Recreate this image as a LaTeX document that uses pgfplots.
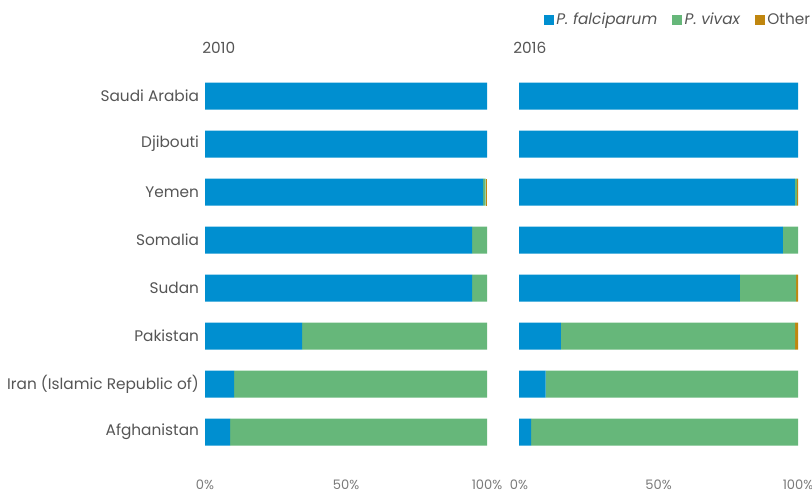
\documentclass[border=0pt]{standalone}
\usepackage{pgfplots}
\pgfplotsset{compat=1.18}
\usepackage{pgfplotstable}
\usepackage{fontspec}
\setmainfont{Poppins}
\definecolor{falc}{HTML}{008FD0}
\definecolor{viv}{HTML}{66B77A}
\definecolor{oth}{HTML}{C0860F}
\definecolor{txt}{HTML}{555555}
\definecolor{tick}{HTML}{7A7A7A}

\pgfplotstableread{
idx falc viv oth
0 100 0 0
1 100 0 0
2 98.6 0.9 0.5
3 94.7 5.3 0
4 94.7 5.3 0
5 34.4 65.6 0
6 10.3 89.7 0
7 8.9 91.1 0
}\tenData
\pgfplotstableread{
idx falc viv oth
0 100 0 0
1 100 0 0
2 98.9 0.7 0.4
3 94.6 5.4 0
4 79.2 20.1 0.7
5 15.0 84.0 1.0
6 9.5 90.5 0
7 4.3 95.7 0
}\sixteenData

\pgfplotsset{
  panel/.style={
    xbar stacked,
    scale only axis,
    height=295.2pt,
    anchor=south west,
    xmin=0, xmax=100,
    ymin=-0.6, ymax=7.6,
    y dir=reverse,
    axis line style={draw=none},
    major tick length=0pt,
    bar width=20.25pt,
    xtick={0,50,100},
    xticklabels={0\%,50\%,100\%},
    xticklabel style={font=\fontsize{9.8}{11}\selectfont, text=tick, yshift=-10.5pt},
    ytick={0,...,7},
    clip=false,
  }
}

\begin{document}
\begin{tikzpicture}
\path[use as bounding box] (0pt,0pt) rectangle (609pt,369pt);

\begin{axis}[panel, at={(153.75pt,23.4pt)}, width=211.5pt,
  yticklabels={Saudi Arabia,Djibouti,Yemen,Somalia,Sudan,Pakistan,Iran (Islamic Republic of),Afghanistan},
  yticklabel style={font=\fontsize{11.5}{13}\selectfont, text=txt, xshift=-1pt}]
\addplot[fill=falc, draw=none] table[x=falc, y=idx] {\tenData};
\addplot[fill=viv, draw=none] table[x=viv, y=idx] {\tenData};
\addplot[fill=oth, draw=none] table[x=oth, y=idx] {\tenData};
\end{axis}

\begin{axis}[panel, at={(389.25pt,23.4pt)}, width=209.25pt,
  yticklabels={},
  legend columns=3,
  legend style={draw=none, fill=none, at={(1.068,1.12)}, anchor=east,
    font=\fontsize{11.5}{13}\selectfont, text=txt,
    /tikz/every even column/.append style={column sep=9pt}},
  legend cell align=left,
  legend image code/.code={\fill[#1] (0pt,-3.6pt) rectangle (7.5pt,3.9pt);}]
\addplot[fill=falc, draw=none] table[x=falc, y=idx] {\sixteenData};
\addlegendentry{\itshape P. falciparum}
\addplot[fill=viv, draw=none] table[x=viv, y=idx] {\sixteenData};
\addlegendentry{\itshape P. vivax}
\addplot[fill=oth, draw=none] table[x=oth, y=idx] {\sixteenData};
\addlegendentry{Other}
\end{axis}

\node[anchor=west, text=txt, font=\fontsize{11.5}{13}\selectfont, inner sep=0pt] at (151.5pt,333pt) {2010};
\node[anchor=west, text=txt, font=\fontsize{11.5}{13}\selectfont, inner sep=0pt] at (384.75pt,333pt) {2016};
\end{tikzpicture}
\end{document}
